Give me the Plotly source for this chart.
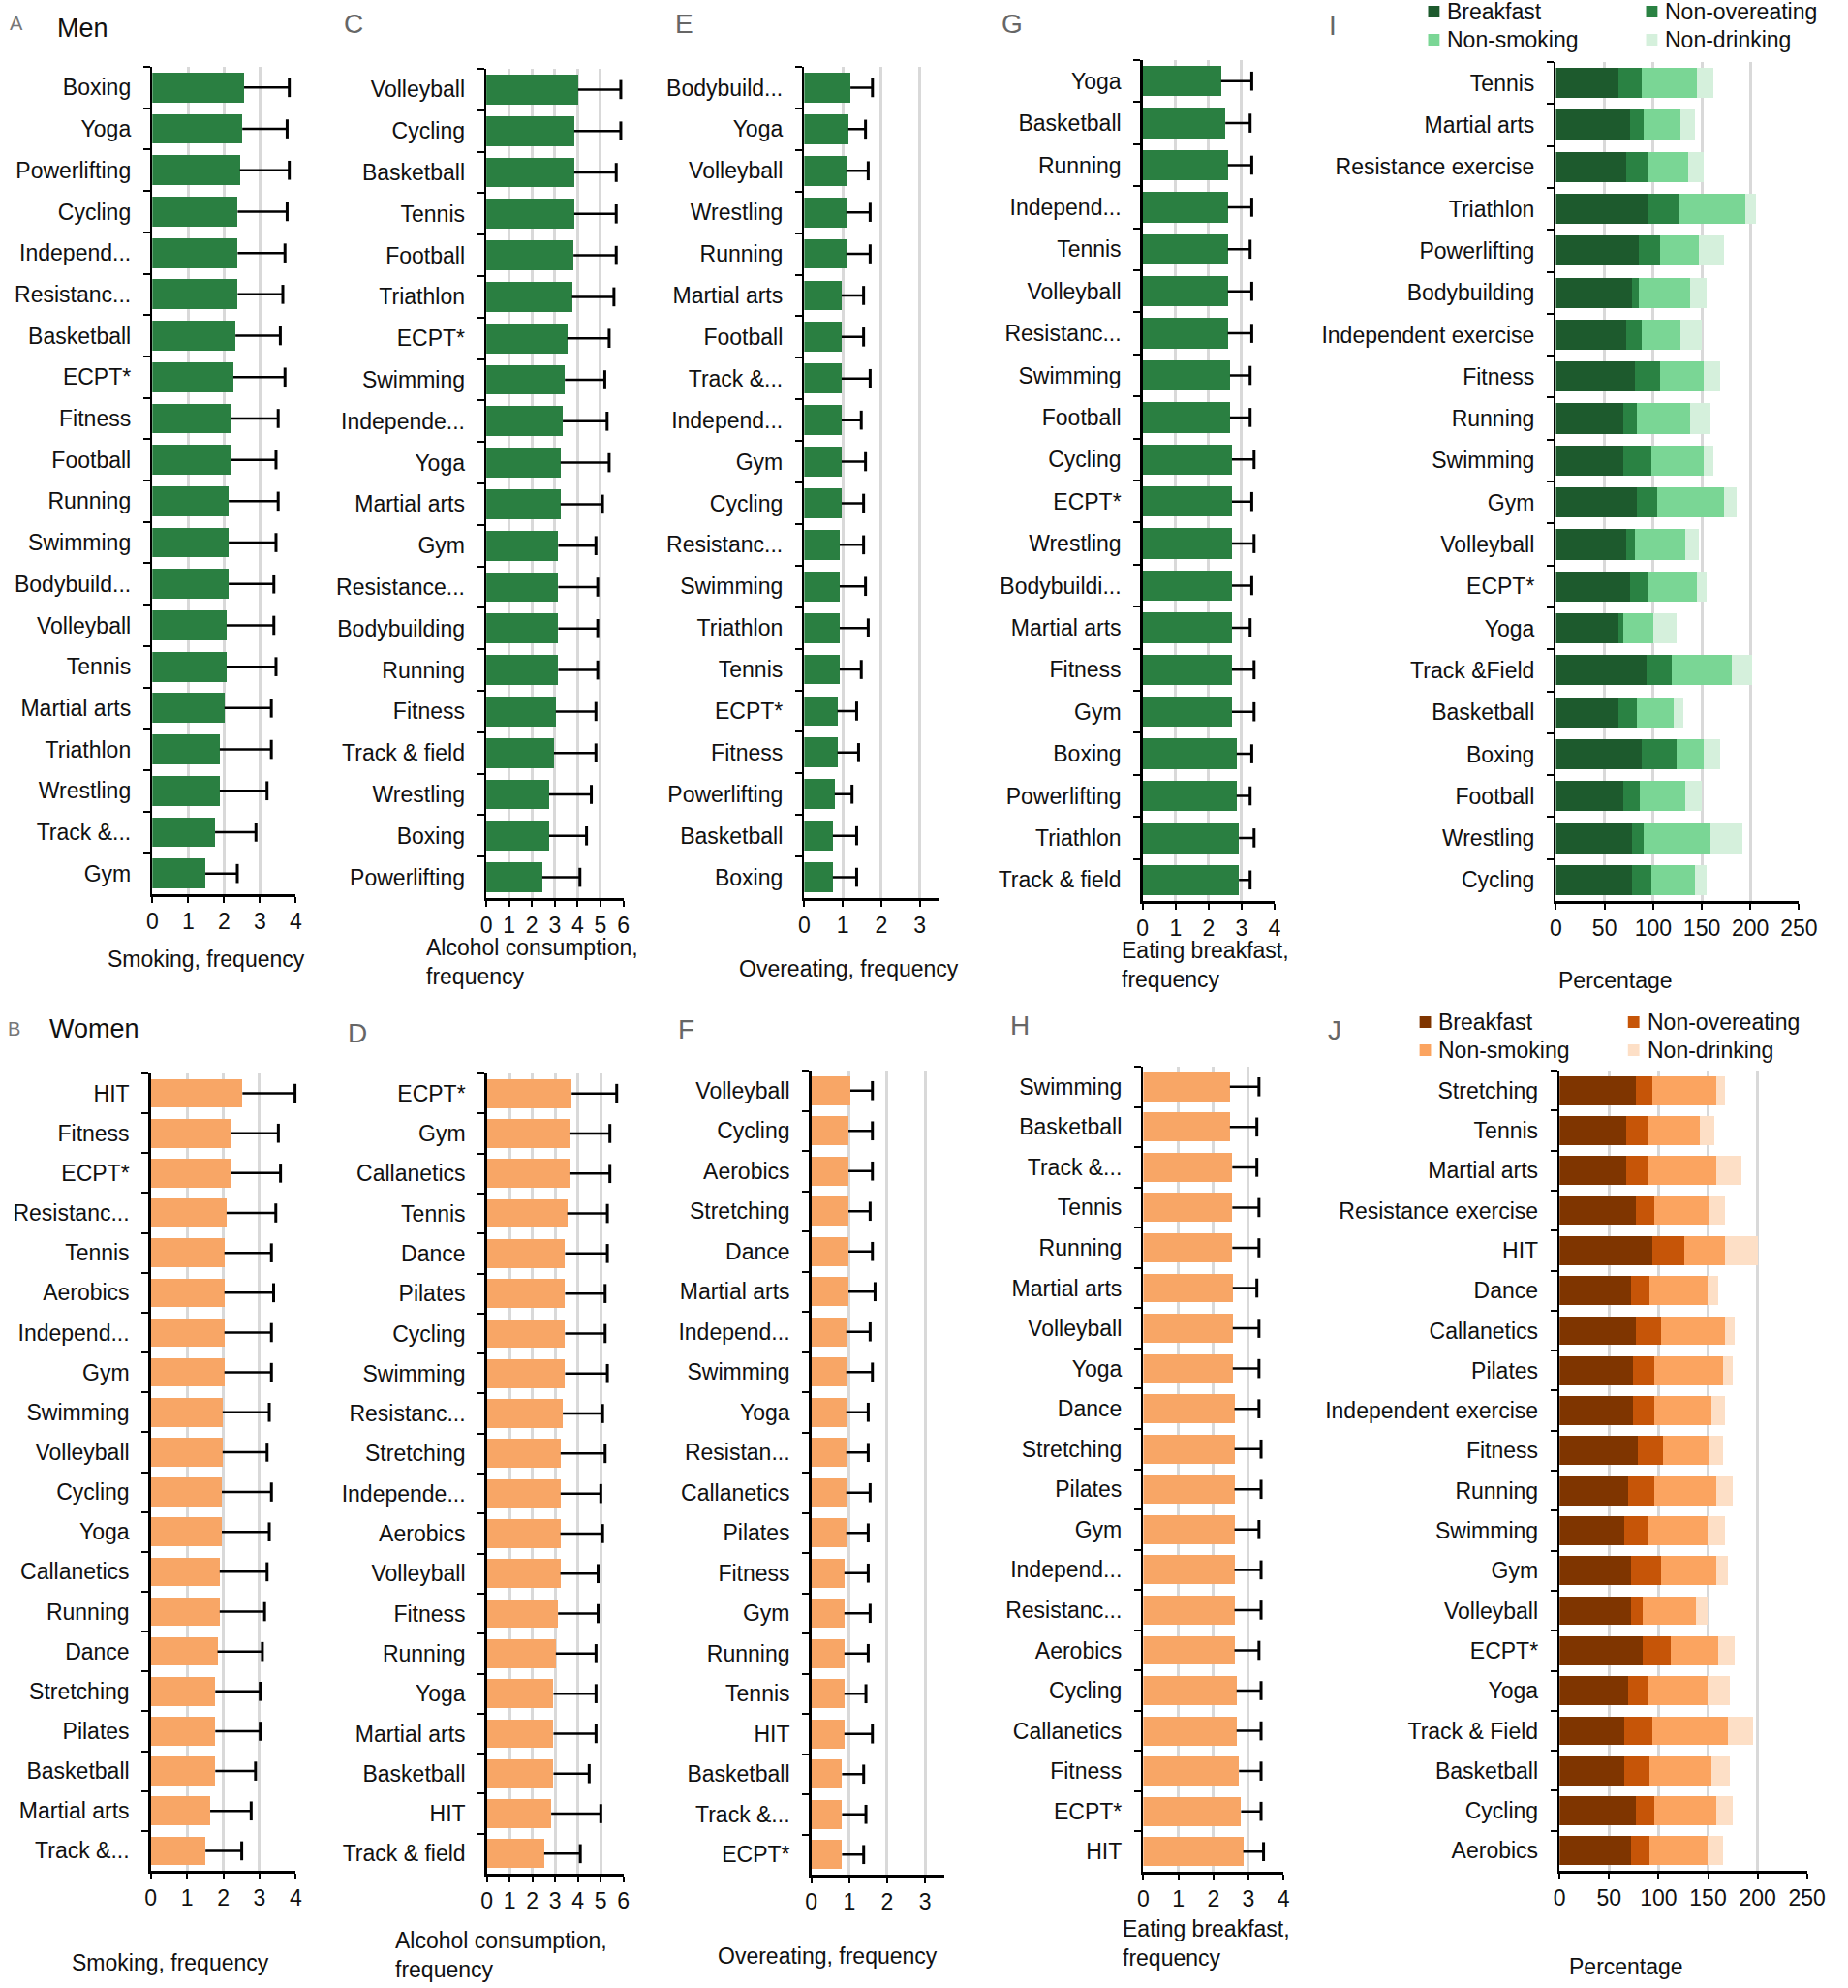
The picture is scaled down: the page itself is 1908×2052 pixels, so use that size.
import plotly.graph_objects as go

W, H = 1908, 2052
FONT = "Liberation Sans, Arial, sans-serif"
GREEN = "#2a7f41"
ORANGE = "#f8a666"
I_COLORS = ["#1d5a2d", "#2a8243", "#7ad695", "#d5f0dc"]
J_COLORS = ["#7f3500", "#c65508", "#fba460", "#fddfc6"]
stack_names = ["Breakfast", "Non-overeating", "Non-smoking", "Non-drinking"]

# ---------------- Men ----------------
catA = ["Boxing", "Yoga", "Powerlifting", "Cycling", "Independ...", "Resistanc...", "Basketball", "ECPT*",
        "Fitness", "Football", "Running", "Swimming", "Bodybuild...", "Volleyball", "Tennis", "Martial arts",
        "Triathlon", "Wrestling", "Track &...", "Gym"]
meanA = [2.56, 2.51, 2.44, 2.38, 2.38, 2.38, 2.32, 2.26, 2.20, 2.20, 2.13, 2.13, 2.13, 2.07, 2.07, 2.01, 1.88, 1.88, 1.75, 1.48]
sdA = [1.26, 1.25, 1.38, 1.38, 1.32, 1.26, 1.25, 1.44, 1.31, 1.25, 1.38, 1.32, 1.26, 1.32, 1.38, 1.31, 1.44, 1.32, 1.14, 0.89]

catC = ["Volleyball", "Cycling", "Basketball", "Tennis", "Football", "Triathlon", "ECPT*", "Swimming", "Independe...",
        "Yoga", "Martial arts", "Gym", "Resistance...", "Bodybuilding", "Running", "Fitness", "Track & field",
        "Wrestling", "Boxing", "Powerlifting"]
meanC = [4.02, 3.85, 3.85, 3.85, 3.82, 3.75, 3.54, 3.44, 3.35, 3.25, 3.25, 3.15, 3.15, 3.15, 3.15, 3.04, 2.96, 2.75, 2.75, 2.45]
sdC = [1.87, 2.04, 1.84, 1.84, 1.87, 1.84, 1.84, 1.75, 1.94, 2.13, 1.84, 1.65, 1.73, 1.73, 1.73, 1.76, 1.84, 1.85, 1.64, 1.65]

catE = ["Bodybuild...", "Yoga", "Volleyball", "Wrestling", "Running", "Martial arts", "Football", "Track &...",
        "Independ...", "Gym", "Cycling", "Resistanc...", "Swimming", "Triathlon", "Tennis", "ECPT*", "Fitness",
        "Powerlifting", "Basketball", "Boxing"]
meanE = [1.20, 1.14, 1.09, 1.09, 1.09, 0.97, 0.97, 0.97, 0.97, 0.97, 0.97, 0.92, 0.92, 0.92, 0.92, 0.86, 0.86, 0.79, 0.74, 0.74]
sdE = [0.57, 0.45, 0.57, 0.62, 0.62, 0.57, 0.57, 0.74, 0.51, 0.62, 0.57, 0.62, 0.67, 0.74, 0.56, 0.50, 0.55, 0.45, 0.62, 0.62]

catG = ["Yoga", "Basketball", "Running", "Independ...", "Tennis", "Volleyball", "Resistanc...", "Swimming", "Football",
        "Cycling", "ECPT*", "Wrestling", "Bodybuildi...", "Martial arts", "Fitness", "Gym", "Boxing", "Powerlifting",
        "Triathlon", "Track & field"]
meanG = [2.38, 2.51, 2.58, 2.58, 2.58, 2.58, 2.58, 2.65, 2.65, 2.71, 2.71, 2.71, 2.71, 2.71, 2.71, 2.71, 2.85, 2.85, 2.92, 2.92]
sdG = [0.93, 0.75, 0.73, 0.73, 0.68, 0.73, 0.73, 0.61, 0.61, 0.67, 0.60, 0.67, 0.60, 0.55, 0.67, 0.67, 0.46, 0.41, 0.46, 0.34]

catI = ["Tennis", "Martial arts", "Resistance exercise", "Triathlon", "Powerlifting", "Bodybuilding",
        "Independent exercise", "Fitness", "Running", "Swimming", "Gym", "Volleyball", "ECPT*", "Yoga",
        "Track &Field", "Basketball", "Boxing", "Football", "Wrestling", "Cycling"]
breakfastI = [64.2, 76.0, 71.8, 95.0, 85.6, 78.7, 71.8, 80.8, 69.1, 69.1, 83.6, 71.8, 76.0, 64.2, 92.9, 64.2, 88.1, 69.1, 78.7, 78.7]
nonOverI = [23.9, 14.5, 23.5, 31.0, 21.8, 6.9, 16.6, 26.6, 14.5, 28.6, 21.0, 9.3, 19.3, 5.2, 26.2, 19.4, 35.5, 17.2, 11.8, 19.0]
nonSmokeI = [56.9, 38.0, 40.7, 68.4, 40.0, 52.5, 40.1, 44.5, 54.5, 54.2, 68.7, 52.2, 49.7, 30.7, 61.5, 37.9, 28.3, 47.0, 68.3, 45.2]
nonDrinkI = [16.6, 14.5, 15.9, 11.7, 25.9, 16.6, 21.4, 16.6, 20.7, 9.7, 12.1, 14.1, 9.7, 23.5, 21.4, 9.7, 16.6, 16.6, 33.5, 11.8]

# ---------------- Women ----------------
catB = ["HIT", "Fitness", "ECPT*", "Resistanc...", "Tennis", "Aerobics", "Independ...", "Gym", "Swimming", "Volleyball",
        "Cycling", "Yoga", "Callanetics", "Running", "Dance", "Stretching", "Pilates", "Basketball", "Martial arts",
        "Track &..."]
meanB = [2.53, 2.22, 2.22, 2.09, 2.03, 2.03, 2.03, 2.03, 1.98, 1.98, 1.96, 1.96, 1.90, 1.90, 1.84, 1.78, 1.78, 1.78, 1.64, 1.51]
sdB = [1.45, 1.30, 1.36, 1.36, 1.30, 1.36, 1.30, 1.30, 1.29, 1.23, 1.37, 1.31, 1.31, 1.24, 1.24, 1.24, 1.24, 1.11, 1.13, 1.00]

catD = ["ECPT*", "Gym", "Callanetics", "Tennis", "Dance", "Pilates", "Cycling", "Swimming", "Resistanc...", "Stretching",
        "Independe...", "Aerobics", "Volleyball", "Fitness", "Running", "Yoga", "Martial arts", "Basketball", "HIT",
        "Track & field"]
meanD = [3.73, 3.63, 3.63, 3.53, 3.44, 3.44, 3.44, 3.44, 3.34, 3.24, 3.24, 3.23, 3.23, 3.13, 3.03, 2.93, 2.93, 2.93, 2.83, 2.52]
sdD = [1.98, 1.78, 1.78, 1.77, 1.86, 1.76, 1.76, 1.86, 1.75, 1.96, 1.77, 1.86, 1.66, 1.76, 1.77, 1.87, 1.87, 1.57, 2.18, 1.59]

catF = ["Volleyball", "Cycling", "Aerobics", "Stretching", "Dance", "Martial arts", "Independ...", "Swimming", "Yoga",
        "Resistan...", "Callanetics", "Pilates", "Fitness", "Gym", "Running", "Tennis", "HIT", "Basketball",
        "Track &...", "ECPT*"]
meanF = [1.03, 0.98, 0.98, 0.98, 0.98, 0.98, 0.92, 0.92, 0.92, 0.92, 0.92, 0.92, 0.87, 0.87, 0.87, 0.87, 0.87, 0.81, 0.81, 0.81]
sdF = [0.58, 0.63, 0.63, 0.57, 0.63, 0.70, 0.63, 0.69, 0.58, 0.58, 0.63, 0.58, 0.63, 0.68, 0.63, 0.57, 0.74, 0.57, 0.63, 0.57]

catH = ["Swimming", "Basketball", "Track &...", "Tennis", "Running", "Martial arts", "Volleyball", "Yoga", "Dance",
        "Stretching", "Pilates", "Gym", "Independ...", "Resistanc...", "Aerobics", "Cycling", "Callanetics", "Fitness",
        "ECPT*", "HIT"]
meanH = [2.47, 2.47, 2.54, 2.54, 2.54, 2.55, 2.55, 2.55, 2.60, 2.60, 2.60, 2.60, 2.60, 2.60, 2.60, 2.66, 2.66, 2.73, 2.79, 2.85]
sdH = [0.83, 0.77, 0.70, 0.76, 0.76, 0.69, 0.75, 0.75, 0.70, 0.76, 0.76, 0.70, 0.76, 0.76, 0.70, 0.70, 0.70, 0.63, 0.57, 0.58]

catJ = ["Stretching", "Tennis", "Martial arts", "Resistance exercise", "HIT", "Dance", "Callanetics", "Pilates",
        "Independent exercise", "Fitness", "Running", "Swimming", "Gym", "Volleyball", "ECPT*", "Yoga",
        "Track & Field", "Basketball", "Cycling", "Aerobics"]
breakfastJ = [77.1, 67.7, 67.7, 77.1, 93.4, 72.4, 77.1, 74.4, 74.4, 79.5, 69.7, 65.6, 72.4, 72.4, 83.9, 69.7, 65.6, 65.6, 77.1, 72.4]
nonOverJ = [16.3, 20.9, 20.9, 18.6, 32.4, 18.6, 25.4, 21.3, 21.3, 25.4, 26.0, 23.0, 30.1, 11.5, 28.1, 18.9, 27.8, 25.4, 18.6, 18.6]
nonSmokeJ = [64.6, 53.5, 69.4, 55.2, 41.7, 58.2, 65.0, 69.4, 57.9, 46.0, 62.3, 60.6, 55.5, 53.5, 48.7, 60.6, 76.4, 62.6, 62.3, 58.2]
nonDrinkJ = [9.5, 13.9, 25.7, 16.6, 32.4, 11.5, 9.4, 9.5, 13.9, 14.2, 16.6, 18.3, 11.8, 11.8, 16.2, 23.0, 25.4, 18.6, 16.6, 15.9]

# ---------------- layout geometry (pixels) ----------------
# (x0, x1, ytop, ybottom)
geom = {
    "A": (153.3, 303.3, 69, 923),
    "C": (502.7, 646.0, 71, 927),
    "E": (835.3, 976.4, 69, 927),
    "G": (1189.3, 1327.3, 62, 930),
    "I": (1621.7, 1876.0, 64, 930),
    "B": (151.7, 303.3, 1108, 1931),
    "D": (503.3, 646.0, 1108, 1934),
    "F": (842.7, 981.6, 1105, 1935),
    "H": (1190.0, 1336.7, 1101, 1932),
    "J": (1625.5, 1884.4, 1105, 1931),
}
xranges = {"A": [0, 4], "C": [0, 6], "E": [0, 3.5], "G": [0, 4], "I": [0, 250],
           "B": [0, 4], "D": [0, 6], "F": [0, 3.5], "H": [0, 4], "J": [0, 250]}
dticks = {"A": 1, "C": 1, "E": 1, "G": 1, "I": 50, "B": 1, "D": 1, "F": 1, "H": 1, "J": 50}
order = ["A", "C", "E", "G", "I", "B", "D", "F", "H", "J"]

fig = go.Figure()
layout = {}


def ax_names(k):
    i = order.index(k) + 1
    s = "" if i == 1 else str(i)
    return "x" + s, "y" + s, "xaxis" + s, "yaxis" + s


def setup_axes(k, cats):
    xn, yn, xl, yl = ax_names(k)
    x0, x1, yt, yb = geom[k]
    n = len(cats)
    layout[xl] = dict(
        domain=[x0 / W, x1 / W], anchor=yn, range=xranges[k], dtick=dticks[k], tick0=0,
        showgrid=True, gridcolor="#d9d9d9", gridwidth=3, zeroline=False,
        showline=True, linecolor="black", linewidth=2.5,
        ticks="outside", ticklen=6, tickwidth=2, tickcolor="black",
        tickfont=dict(size=23, color="#111", family=FONT), fixedrange=True,
    )
    layout[yl] = dict(
        domain=[1 - yb / H, 1 - yt / H], anchor=xn, type="category",
        categoryorder="array", categoryarray=cats, range=[n - 0.5, -0.5],
        showgrid=False, zeroline=False, showline=True, linecolor="black", linewidth=2.5,
        ticks="outside", tickson="boundaries", ticklen=7, tickwidth=2, tickcolor="black",
        tickfont=dict(size=23, color="#111", family=FONT), ticklabelstandoff=15, fixedrange=True,
    )
    return xn, yn


def add_simple(k, cats, mean, sd, color):
    xn, yn = setup_axes(k, cats)
    fig.add_trace(go.Bar(x=mean, y=cats, orientation="h", marker=dict(color=color, line=dict(width=0)),
                         xaxis=xn, yaxis=yn, showlegend=False))
    lx, ly = [], []
    for c, m, s in zip(cats, mean, sd):
        lx += [m, m + s, None]
        ly += [c, c, None]
    fig.add_trace(go.Scatter(x=lx, y=ly, mode="lines", line=dict(color="black", width=2.5),
                             xaxis=xn, yaxis=yn, showlegend=False, hoverinfo="skip"))
    fig.add_trace(go.Scatter(x=[m + s for m, s in zip(mean, sd)], y=cats, mode="markers",
                             marker=dict(symbol="line-ns", size=14, line=dict(color="black", width=3)),
                             xaxis=xn, yaxis=yn, showlegend=False, cliponaxis=False))


def add_stack(k, cats, series, colors):
    xn, yn = setup_axes(k, cats)
    for name, vals, col in zip(stack_names, series, colors):
        fig.add_trace(go.Bar(x=vals, y=cats, orientation="h", name=name,
                             marker=dict(color=col, line=dict(width=0)),
                             xaxis=xn, yaxis=yn, showlegend=False))


add_simple("A", catA, meanA, sdA, GREEN)
add_simple("C", catC, meanC, sdC, GREEN)
add_simple("E", catE, meanE, sdE, GREEN)
add_simple("G", catG, meanG, sdG, GREEN)
add_stack("I", catI, [breakfastI, nonOverI, nonSmokeI, nonDrinkI], I_COLORS)
add_simple("B", catB, meanB, sdB, ORANGE)
add_simple("D", catD, meanD, sdD, ORANGE)
add_simple("F", catF, meanF, sdF, ORANGE)
add_simple("H", catH, meanH, sdH, ORANGE)
add_stack("J", catJ, [breakfastJ, nonOverJ, nonSmokeJ, nonDrinkJ], J_COLORS)

annotations = []
shapes = []


def txt(x, y, text, size=23, xanchor="center", color="#111", align="center"):
    annotations.append(dict(x=x / W, y=1 - y / H, xref="paper", yref="paper", text=text, showarrow=False,
                            xanchor=xanchor, yanchor="middle", align=align,
                            font=dict(size=size, color=color, family=FONT)))


# axis titles
txt(210, 990, "Smoking, frequency")
txt(438, 993, "Alcohol consumption,<br>frequency", xanchor="left", align="left")
txt(882, 1000, "Overeating, frequency")
txt(1165, 996, "Eating breakfast,<br>frequency", xanchor="left", align="left")
txt(1684, 1012, "Percentage")
txt(172, 2026, "Smoking, frequency")
txt(405, 2018, "Alcohol consumption,<br>frequency", xanchor="left", align="left")
txt(860, 2019, "Overeating, frequency")
txt(1166, 2006, "Eating breakfast,<br>frequency", xanchor="left", align="left")
txt(1695, 2030, "Percentage")

# panel letters and group titles
txt(11, 24, "A", size=20, color="#777")
txt(52, 29, "Men", size=27, xanchor="left")
txt(9, 1062, "B", size=20, color="#777")
txt(44, 1062, "Women", size=27, xanchor="left")
for lab, x, y in [("C", 364, 24), ("E", 710, 24), ("G", 1053, 24), ("I", 1388, 26),
                  ("D", 368, 1066), ("F", 712, 1062), ("H", 1061, 1058), ("J", 1390, 1063)]:
    txt(x, y, lab, size=28, color="#666")


# legends for stacked panels
def legend(cols_x, rows_y, colors):
    pos = [(0, 0), (1, 0), (0, 1), (1, 1)]
    for (ci, ri), name, col in zip(pos, stack_names, colors):
        sx = cols_x[ci]
        sy = rows_y[ri]
        shapes.append(dict(type="rect", xref="paper", yref="paper",
                           x0=(sx - 6) / W, x1=(sx + 6) / W, y0=1 - (sy + 6) / H, y1=1 - (sy - 6) / H,
                           fillcolor=col, line=dict(width=0)))
        txt(sx + 12, sy, name, xanchor="left")


legend([1494, 1722], [12, 41], I_COLORS)
legend([1485, 1703], [1055, 1084], J_COLORS)

fig.update_layout(
    width=W, height=H, margin=dict(l=0, r=0, t=0, b=0),
    paper_bgcolor="white", plot_bgcolor="white",
    barmode="stack", bargap=0.28,
    font=dict(family=FONT, size=23, color="#111"),
    annotations=annotations, shapes=shapes, showlegend=False,
    **layout,
)

fig.write_html("out.html", config={"displayModeBar": False, "staticPlot": True},
               post_script="document.body.style.margin='0';document.body.style.overflow='hidden';")
